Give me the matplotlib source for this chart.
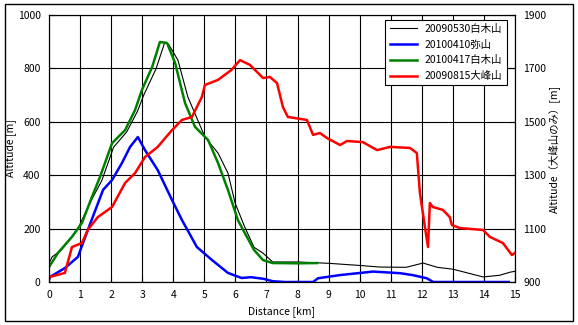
import matplotlib.pyplot as plt
from matplotlib.patches import Rectangle

plt.rcParams['font.family'] = ['Noto Sans CJK JP', 'DejaVu Sans']

# 20090530 白木山 (black)
km_black = [0, 0.1, 0.4, 0.93, 1.38, 1.7, 2.08, 2.5, 2.85, 3.05, 3.45, 3.73, 3.85, 4.15,
            4.47, 5.02, 5.44, 5.76, 5.99, 6.3, 6.6, 6.89, 7.2, 8.0, 9.0, 10.0, 10.65,
            11.5, 12.04, 12.5, 13.0, 13.97, 14.5, 14.85, 15.0]
alt_black = [70, 94, 120, 200, 310, 380, 505, 562, 640, 700, 800, 899, 890, 831,
             693, 543, 483, 408, 296, 206, 130, 108, 75, 75, 70, 62, 56,
             55, 71, 55, 48, 19, 25, 37, 40]

# 20100410 弥山 (blue)
km_blue = [0, 0.03, 0.51, 0.93, 1.25, 1.74, 2.03, 2.35, 2.61, 2.86, 3.09, 3.5, 3.96,
           4.28, 4.76, 5.25, 5.76, 6.2, 6.5, 6.9, 7.2, 7.6, 8.08, 8.5, 8.66, 9.37,
           10.43, 11.3, 11.7, 12.16, 12.37, 12.5, 13.13, 13.2, 13.6, 14.8]
alt_blue = [8, 19, 52, 94, 195, 345, 382, 446, 506, 543, 494, 419, 307,
            232, 131, 82, 34, 15, 18, 12, 3, 0, 0, 0, 14, 26,
            39, 33, 26, 14, 0, 0, 0, 0, 0, 0]

# 20100417 白木山 (green)
km_green = [0, 0.29, 0.74, 1.06, 1.38, 1.64, 2.03, 2.45, 2.77, 2.99, 3.32, 3.57, 3.8,
            4.06, 4.38, 4.7, 5.12, 5.44, 5.76, 6.08, 6.3, 6.6, 6.89, 7.2, 8.0, 8.63]
alt_green = [56, 109, 169, 221, 318, 393, 520, 569, 644, 719, 805, 899, 895,
             820, 670, 581, 532, 446, 345, 232, 184, 120, 82, 71, 70, 71]

# 20090815 大峰山 (red, right axis)
km_red = [0, 0.03, 0.51, 0.74, 1.06, 1.25, 1.57, 2.03, 2.45, 2.77, 3.09, 3.5, 3.96,
          4.28, 4.6, 4.92, 5.02, 5.44, 5.87, 6.15, 6.47, 6.89, 7.11, 7.34, 7.53,
          7.69, 8.3, 8.5, 8.72, 8.95, 9.37, 9.59, 10.1, 10.56, 10.98, 11.62, 11.84,
          11.94, 12.1, 12.2, 12.26, 12.35, 12.68, 12.9, 12.97, 13.23, 13.97, 14.19,
          14.61, 14.9, 15.0]
alt_red = [915, 919, 934, 1031, 1046, 1095, 1143, 1181, 1271, 1308, 1368, 1406, 1469,
           1507, 1518, 1593, 1638, 1657, 1694, 1731, 1713, 1664, 1668, 1645, 1555,
           1518, 1507, 1451, 1458, 1439, 1413, 1428, 1424, 1394, 1406, 1402, 1383,
           1233, 1106, 1031, 1196, 1181, 1170, 1143, 1113, 1102, 1095, 1069,
           1046, 1001, 1009]

fig = plt.figure(figsize=(5.78, 3.25), dpi=100)
ax = fig.add_axes([49 / 578, 1 - 282 / 325, 466 / 578, 267 / 325])
ax2 = ax.twinx()

ax.set_xlim(0, 15)
ax.set_ylim(0, 1000)
ax2.set_ylim(900, 1900)
ax.set_xticks(range(0, 16))
ax.set_yticks(range(0, 1001, 200))
ax2.set_yticks(range(900, 1901, 200))
ax.grid(True, color='black', lw=0.8)

l1, = ax.plot(km_black, alt_black, color='black', lw=0.8, label='20090530白木山')
l2, = ax.plot(km_blue, alt_blue, color='blue', lw=1.8, label='20100410弥山')
l3, = ax.plot(km_green, alt_green, color='green', lw=1.8, label='20100417白木山')
l4, = ax2.plot(km_red, alt_red, color='red', lw=1.8, label='20090815大峰山')

for a in (ax, ax2):
    a.tick_params(direction='in', length=4, labelsize=7.5, pad=6, color='black')
    for s in a.spines.values():
        s.set_linewidth(0.8)

ax.set_xlabel('Distance [km]', fontsize=7.5, labelpad=4)
ax.set_ylabel('Altitude [m]', fontsize=7.5, labelpad=1)
ax2.set_ylabel('Altitude（大峰山のみ）[m]', fontsize=7.5, labelpad=2)

leg = ax2.legend(handles=[l1, l2, l3, l4], loc='upper right',
                 bbox_to_anchor=(0.982, 0.982), borderaxespad=0, fontsize=7.5,
                 fancybox=False, framealpha=1, edgecolor='black',
                 handlelength=2.6, labelspacing=0.55, borderpad=0.4)
leg.get_frame().set_linewidth(0.8)

fig.patches.append(Rectangle((5 / 578, 4 / 325), 568 / 578, 317 / 325,
                             transform=fig.transFigure, fill=False,
                             edgecolor='black', lw=1.0))

fig.savefig('out.png', dpi=100)
